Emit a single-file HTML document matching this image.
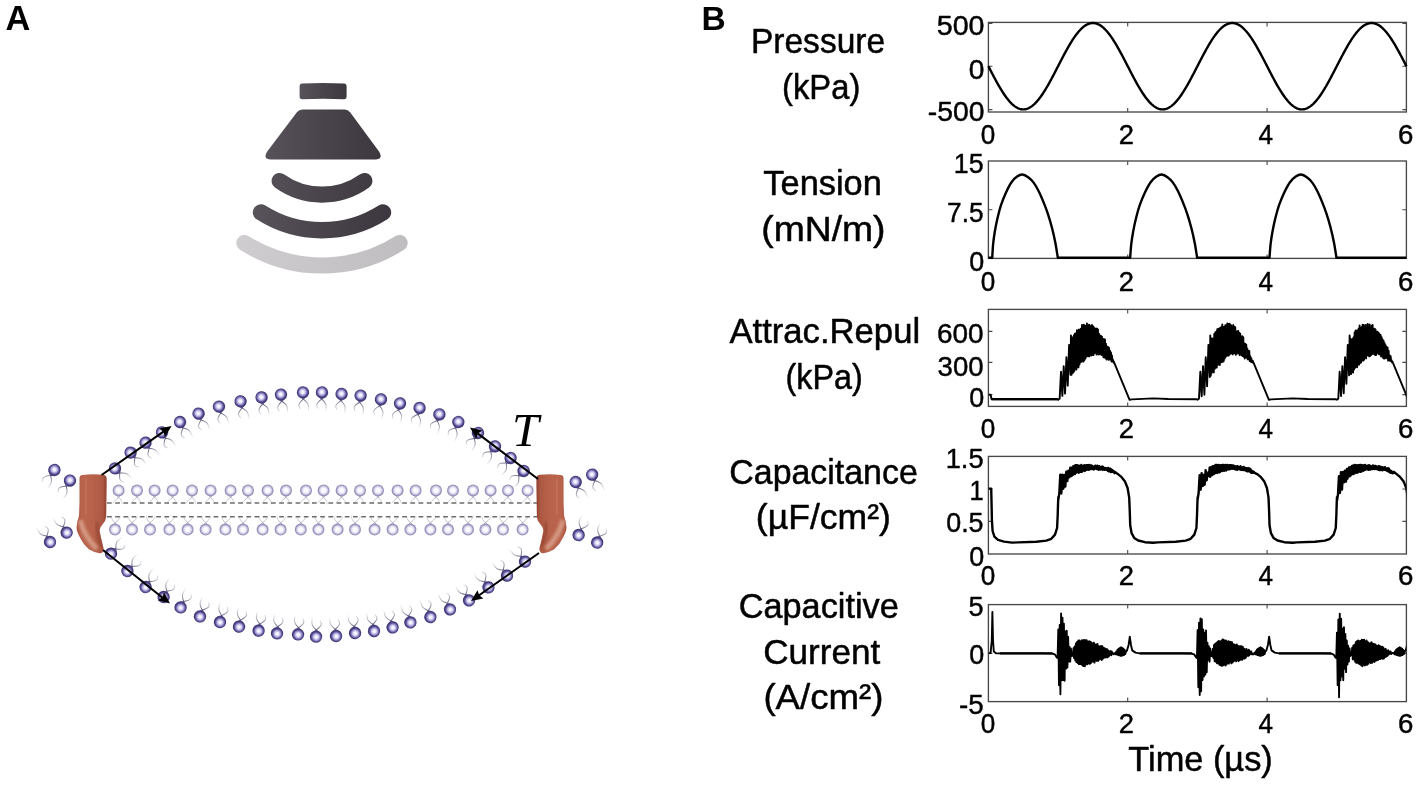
<!DOCTYPE html>
<html lang="en"><head><meta charset="utf-8"><title>Figure</title>
<style>html,body{margin:0;padding:0;background:#fff;}body{width:1425px;height:789px;overflow:hidden;font-family:"Liberation Sans",sans-serif;}svg{display:block;}</style>
</head><body>
<svg width="1425" height="789" viewBox="0 0 1425 789">
<defs><clipPath id="cp0"><rect x="988.4" y="22.4" width="418.0" height="90.8"/></clipPath>
<clipPath id="cp1"><rect x="988.4" y="161.0" width="418.0" height="98.6"/></clipPath>
<clipPath id="cp2"><rect x="988.4" y="309.4" width="418.0" height="98.2"/></clipPath>
<clipPath id="cp3"><rect x="988.4" y="456.4" width="418.0" height="98.8"/></clipPath>
<clipPath id="cp4"><rect x="988.4" y="604.6" width="418.0" height="98.2"/></clipPath>
<linearGradient id="gd" x1="0" x2="1" y1="0" y2="0"><stop offset="0" stop-color="#575159"/><stop offset="0.5" stop-color="#49434b"/><stop offset="1" stop-color="#3d373f"/></linearGradient>
<linearGradient id="gl" x1="0" x2="1" y1="0" y2="0"><stop offset="0" stop-color="#cdcbcd"/><stop offset="1" stop-color="#c0bec1"/></linearGradient>
<linearGradient id="gdu" gradientUnits="userSpaceOnUse" x1="235" x2="409" y1="0" y2="0"><stop offset="0" stop-color="#5c565e"/><stop offset="0.5" stop-color="#49434b"/><stop offset="1" stop-color="#39333b"/></linearGradient>
<linearGradient id="glu" gradientUnits="userSpaceOnUse" x1="235" x2="409" y1="0" y2="0"><stop offset="0" stop-color="#cfcdcf"/><stop offset="1" stop-color="#bfbdc0"/></linearGradient>
<radialGradient id="hd" cx="0.48" cy="0.47" r="0.52"><stop offset="0" stop-color="#ffffff"/><stop offset="0.22" stop-color="#efedfd"/><stop offset="0.46" stop-color="#b9b3e2"/><stop offset="0.68" stop-color="#6a61a6"/><stop offset="0.86" stop-color="#3f3775"/><stop offset="1" stop-color="#4a4282"/></radialGradient>
<radialGradient id="hl" cx="0.5" cy="0.48" r="0.52"><stop offset="0" stop-color="#ffffff"/><stop offset="0.38" stop-color="#f7f6fd"/><stop offset="0.62" stop-color="#d4d1e8"/><stop offset="0.84" stop-color="#9591b9"/><stop offset="1" stop-color="#9a96c0"/></radialGradient>
<linearGradient id="tg" gradientUnits="userSpaceOnUse" x1="0" y1="5" x2="0" y2="20"><stop offset="0" stop-color="#433c6c" stop-opacity="1"/><stop offset="0.25" stop-color="#67627f" stop-opacity="0.8"/><stop offset="0.65" stop-color="#8a8799" stop-opacity="0.4"/><stop offset="1" stop-color="#a09eac" stop-opacity="0"/></linearGradient>
<linearGradient id="tgl" gradientUnits="userSpaceOnUse" x1="0" y1="5" x2="0" y2="15"><stop offset="0" stop-color="#85829c" stop-opacity="0.95"/><stop offset="1" stop-color="#a3a2ad" stop-opacity="0.25"/></linearGradient>
<g id="lip"><path d="M-1.8,5.0 C0.4,7.4 4.2,9.6 4.6,13 C4.8,15 4.6,17 4.6,19.5" fill="none" stroke="url(#tg)" stroke-width="1.0"/><path d="M1.8,5.0 C-0.4,7.4 -4.4,9.6 -4.8,12.4 C-5,14.2 -4,15.2 -3.2,16.4" fill="none" stroke="url(#tg)" stroke-width="1.0"/><circle r="6.2" fill="url(#hd)"/></g>
<g id="lipf"><path d="M-1.2,5.4 C0.4,7.4 2.6,8.8 3.4,11.4 L3.6,14" fill="none" stroke="url(#tgl)" stroke-width="0.8"/><path d="M1.2,5.4 C-0.4,7.4 -3.0,8.8 -4.2,10.6 L-5.6,13" fill="none" stroke="url(#tgl)" stroke-width="0.8"/><circle r="6.0" fill="url(#hl)"/></g>
<filter id="soft" x="-5%" y="-5%" width="110%" height="110%"><feGaussianBlur stdDeviation="0.4"/></filter>
<linearGradient id="pg" x1="0" x2="1" y1="0" y2="0"><stop offset="0" stop-color="#a8553f"/><stop offset="0.18" stop-color="#b9644d"/><stop offset="0.55" stop-color="#b8624b"/><stop offset="0.85" stop-color="#ad5943"/><stop offset="1" stop-color="#9c4d39"/></linearGradient>
<filter id="pb" x="-30%" y="-30%" width="160%" height="160%"><feGaussianBlur stdDeviation="1.6"/></filter>
<path id="prot" d="M82.5,475 Q92,473.8 103.5,474.8 Q106.6,475.2 106.7,478.5 L106.7,485 L106.2,517 Q105.8,521 102.5,524.5 Q99,528 99.8,531.5 Q101,538 102.5,544 Q104,548.5 103.5,550.5 Q102.5,553.5 99.5,553.2 Q94,552.5 88.8,549.3 Q83.5,545 80.5,538.5 Q76.2,531 76.6,527 Q77,521 79,515.8 L79.5,501.8 L79.5,478.5 Q79.4,475.4 82.5,475 Z"/>
<clipPath id="pc"><use href="#prot"/></clipPath>
<g id="protg"><use href="#prot" fill="url(#pg)"/><g clip-path="url(#pc)"><path d="M80,520 Q84,536 97,549" fill="none" stroke="#d9a08a" stroke-width="5" filter="url(#pb)" opacity="0.9"/><path d="M97,522 Q96,532 102,547" fill="none" stroke="#8f4331" stroke-width="3" filter="url(#pb)" opacity="0.8"/><path d="M86,478 L85.5,515" fill="none" stroke="#c9775f" stroke-width="4" filter="url(#pb)" opacity="0.7"/><path d="M105.5,476 L105,518" fill="none" stroke="#8f4331" stroke-width="2.5" filter="url(#pb)" opacity="0.7"/></g></g></defs>
<rect width="100%" height="100%" fill="#fff"/>
<g id="icon"><path d="M302.2,83.6 Q323,82.4 344,83.6 Q346.6,83.8 346.6,86.4 L346.6,96.6 Q346.6,99.2 344,99.3 Q323,98.2 302.2,99.3 Q299.6,99.2 299.6,96.6 L299.6,86.4 Q299.6,83.8 302.2,83.6 Z" fill="url(#gd)"/>
<path d="M302.5,109.4 L344.5,109.4 Q348,109.4 350.3,112.4 L379,151.6 Q383.6,159.4 375.6,159.4 L270.6,159.4 Q262.6,159.4 267.2,151.6 L296.7,112.4 Q299,109.4 302.5,109.4 Z" fill="url(#gd)"/>
<path d="M279.6,181.0 A72.9,72.9 0 0 0 364.4,181.0" fill="none" stroke="url(#gdu)" stroke-width="16.2" stroke-linecap="round"/>
<path d="M261.0,212.4 A113.4,113.4 0 0 0 383.0,212.4" fill="none" stroke="url(#gdu)" stroke-width="16.4" stroke-linecap="round"/>
<path d="M244.4,243.0 A145.1,145.1 0 0 0 399.6,243.0" fill="none" stroke="url(#glu)" stroke-width="16.2" stroke-linecap="round"/></g>
<g id="memflat" filter="url(#soft)"><use href="#lipf" transform="translate(118.6,490.6) rotate(0.0)"/>
<use href="#lipf" transform="translate(137.0,490.6) rotate(0.0)"/>
<use href="#lipf" transform="translate(154.6,490.6) rotate(0.0)"/>
<use href="#lipf" transform="translate(172.6,490.6) rotate(0.0)"/>
<use href="#lipf" transform="translate(192.0,490.6) rotate(0.0)"/>
<use href="#lipf" transform="translate(210.6,490.6) rotate(0.0)"/>
<use href="#lipf" transform="translate(230.6,490.6) rotate(0.0)"/>
<use href="#lipf" transform="translate(248.0,490.6) rotate(0.0)"/>
<use href="#lipf" transform="translate(267.6,490.6) rotate(0.0)"/>
<use href="#lipf" transform="translate(286.0,490.6) rotate(0.0)"/>
<use href="#lipf" transform="translate(306.0,490.6) rotate(0.0)"/>
<use href="#lipf" transform="translate(323.6,490.6) rotate(0.0)"/>
<use href="#lipf" transform="translate(341.6,490.6) rotate(0.0)"/>
<use href="#lipf" transform="translate(360.0,490.6) rotate(0.0)"/>
<use href="#lipf" transform="translate(378.0,490.6) rotate(0.0)"/>
<use href="#lipf" transform="translate(397.6,490.6) rotate(0.0)"/>
<use href="#lipf" transform="translate(415.6,490.6) rotate(0.0)"/>
<use href="#lipf" transform="translate(436.0,490.6) rotate(0.0)"/>
<use href="#lipf" transform="translate(453.0,490.6) rotate(0.0)"/>
<use href="#lipf" transform="translate(473.0,490.6) rotate(0.0)"/>
<use href="#lipf" transform="translate(490.6,490.6) rotate(0.0)"/>
<use href="#lipf" transform="translate(508.0,490.6) rotate(0.0)"/>
<use href="#lipf" transform="translate(527.6,490.6) rotate(0.0)"/>
<use href="#lipf" transform="translate(115.0,529.4) rotate(180.0)"/>
<use href="#lipf" transform="translate(132.0,529.4) rotate(180.0)"/>
<use href="#lipf" transform="translate(150.0,529.4) rotate(180.0)"/>
<use href="#lipf" transform="translate(169.4,529.4) rotate(180.0)"/>
<use href="#lipf" transform="translate(187.6,529.4) rotate(180.0)"/>
<use href="#lipf" transform="translate(205.6,529.4) rotate(180.0)"/>
<use href="#lipf" transform="translate(225.4,529.4) rotate(180.0)"/>
<use href="#lipf" transform="translate(243.0,529.4) rotate(180.0)"/>
<use href="#lipf" transform="translate(262.6,529.4) rotate(180.0)"/>
<use href="#lipf" transform="translate(280.6,529.4) rotate(180.0)"/>
<use href="#lipf" transform="translate(300.8,529.4) rotate(180.0)"/>
<use href="#lipf" transform="translate(318.4,529.4) rotate(180.0)"/>
<use href="#lipf" transform="translate(337.6,529.4) rotate(180.0)"/>
<use href="#lipf" transform="translate(355.0,529.4) rotate(180.0)"/>
<use href="#lipf" transform="translate(374.6,529.4) rotate(180.0)"/>
<use href="#lipf" transform="translate(392.6,529.4) rotate(180.0)"/>
<use href="#lipf" transform="translate(410.4,529.4) rotate(180.0)"/>
<use href="#lipf" transform="translate(430.4,529.4) rotate(180.0)"/>
<use href="#lipf" transform="translate(448.0,529.4) rotate(180.0)"/>
<use href="#lipf" transform="translate(468.0,529.4) rotate(180.0)"/>
<use href="#lipf" transform="translate(485.4,529.4) rotate(180.0)"/>
<use href="#lipf" transform="translate(503.0,529.4) rotate(180.0)"/>
<use href="#lipf" transform="translate(522.6,529.4) rotate(180.0)"/></g>
<path d="M107,503.0 H537 M107,516.75 H537" stroke="#6c6c6c" stroke-width="1.35" stroke-dasharray="4.7 3.5" fill="none"/>
<g id="membrane" filter="url(#soft)"><use href="#lip" transform="translate(115.0,468.4) rotate(-45.4)"/>
<use href="#lip" transform="translate(130.6,452.6) rotate(-40.1)"/>
<use href="#lip" transform="translate(145.6,442.6) rotate(-32.8)"/>
<use href="#lip" transform="translate(162.0,432.4) rotate(-30.9)"/>
<use href="#lip" transform="translate(180.0,422.0) rotate(-27.2)"/>
<use href="#lip" transform="translate(198.6,413.6) rotate(-21.5)"/>
<use href="#lip" transform="translate(219.0,406.6) rotate(-16.2)"/>
<use href="#lip" transform="translate(240.6,401.4) rotate(-12.2)"/>
<use href="#lip" transform="translate(261.6,397.4) rotate(-9.6)"/>
<use href="#lip" transform="translate(281.0,394.6) rotate(-6.9)"/>
<use href="#lip" transform="translate(303.0,392.4) rotate(-3.1)"/>
<use href="#lip" transform="translate(322.0,392.4) rotate(2.4)"/>
<use href="#lip" transform="translate(341.6,394.0) rotate(4.7)"/>
<use href="#lip" transform="translate(360.6,395.6) rotate(7.8)"/>
<use href="#lip" transform="translate(381.0,399.4) rotate(11.2)"/>
<use href="#lip" transform="translate(400.0,403.4) rotate(12.6)"/>
<use href="#lip" transform="translate(419.6,408.0) rotate(15.6)"/>
<use href="#lip" transform="translate(439.4,414.4) rotate(19.8)"/>
<use href="#lip" transform="translate(458.4,422.0) rotate(25.7)"/>
<use href="#lip" transform="translate(478.0,433.0) rotate(33.7)"/>
<use href="#lip" transform="translate(495.0,446.4) rotate(37.5)"/>
<use href="#lip" transform="translate(510.6,458.0) rotate(40.7)"/>
<use href="#lip" transform="translate(523.6,471.0) rotate(45.0)"/>
<use href="#lip" transform="translate(111.0,553.6) rotate(-133.3)"/>
<use href="#lip" transform="translate(127.4,571.0) rotate(-136.0)"/>
<use href="#lip" transform="translate(145.6,587.0) rotate(-144.3)"/>
<use href="#lip" transform="translate(163.6,597.0) rotate(-149.8)"/>
<use href="#lip" transform="translate(180.6,607.4) rotate(-151.9)"/>
<use href="#lip" transform="translate(200.0,616.4) rotate(-159.7)"/>
<use href="#lip" transform="translate(220.0,622.0) rotate(-165.3)"/>
<use href="#lip" transform="translate(239.0,626.6) rotate(-167.4)"/>
<use href="#lip" transform="translate(258.6,630.6) rotate(-169.9)"/>
<use href="#lip" transform="translate(277.0,633.4) rotate(-174.5)"/>
<use href="#lip" transform="translate(298.0,634.4) rotate(-175.3)"/>
<use href="#lip" transform="translate(316.0,636.6) rotate(-177.6)"/>
<use href="#lip" transform="translate(336.0,636.0) rotate(174.7)"/>
<use href="#lip" transform="translate(355.0,633.0) rotate(172.5)"/>
<use href="#lip" transform="translate(374.0,631.0) rotate(171.5)"/>
<use href="#lip" transform="translate(392.6,627.4) rotate(166.7)"/>
<use href="#lip" transform="translate(410.4,622.4) rotate(164.6)"/>
<use href="#lip" transform="translate(430.4,617.0) rotate(161.8)"/>
<use href="#lip" transform="translate(450.0,609.4) rotate(156.7)"/>
<use href="#lip" transform="translate(469.0,600.4) rotate(150.2)"/>
<use href="#lip" transform="translate(488.4,587.4) rotate(146.9)"/>
<use href="#lip" transform="translate(507.0,575.6) rotate(144.8)"/>
<use href="#lip" transform="translate(525.0,561.6) rotate(142.1)"/>
<use href="#lip" transform="translate(54.4,470.0) rotate(34.2)"/>
<use href="#lip" transform="translate(70.0,480.6) rotate(34.2)"/>
<use href="#lip" transform="translate(50.0,542.0) rotate(150.5)"/>
<use href="#lip" transform="translate(66.6,532.6) rotate(150.5)"/>
<use href="#lip" transform="translate(575.7,482.0) rotate(-24.2)"/>
<use href="#lip" transform="translate(592.2,474.6) rotate(-24.2)"/>
<use href="#lip" transform="translate(578.6,535.0) rotate(-158.0)"/>
<use href="#lip" transform="translate(597.2,542.5) rotate(-158.0)"/>
<use href="#protg"/>
<use href="#protg" transform="translate(643.05,0) scale(-1,1)"/></g>
<g id="arrows"><path d="M101.6,475.0 L163.8,431.4" stroke="#000" stroke-width="2.1" fill="none"/><path d="M171.6,426.0 L165.0,436.7 L163.4,431.7 L159.3,428.5 Z" fill="#000"/>
<path d="M103.0,550.0 L162.6,597.7" stroke="#000" stroke-width="2.1" fill="none"/><path d="M170.0,603.6 L157.9,600.3 L162.2,597.4 L164.1,592.5 Z" fill="#000"/>
<path d="M538.0,479.0 L477.6,433.3" stroke="#000" stroke-width="2.1" fill="none"/><path d="M470.0,427.6 L482.2,430.5 L478.0,433.6 L476.2,438.5 Z" fill="#000"/>
<path d="M539.0,553.0 L478.8,595.5" stroke="#000" stroke-width="2.1" fill="none"/><path d="M471.0,601.0 L477.5,590.3 L479.2,595.2 L483.3,598.5 Z" fill="#000"/></g>
<g id="charts" shape-rendering="geometricPrecision"><rect x="988.4" y="22.4" width="418.0" height="89.6" fill="none" stroke="#484848" stroke-width="1.35"/>
<path d="M1127.7,22.4 v4 M1127.7,112.0 v-4" stroke="#484848" stroke-width="1.1"/>
<path d="M1267.1,22.4 v4 M1267.1,112.0 v-4" stroke="#484848" stroke-width="1.1"/>
<rect x="988.4" y="161.0" width="418.0" height="97.4" fill="none" stroke="#484848" stroke-width="1.35"/>
<path d="M1127.7,161.0 v4 M1127.7,258.4 v-4" stroke="#484848" stroke-width="1.1"/>
<path d="M1267.1,161.0 v4 M1267.1,258.4 v-4" stroke="#484848" stroke-width="1.1"/>
<rect x="988.4" y="309.4" width="418.0" height="97.0" fill="none" stroke="#484848" stroke-width="1.35"/>
<path d="M1127.7,309.4 v4 M1127.7,406.4 v-4" stroke="#484848" stroke-width="1.1"/>
<path d="M1267.1,309.4 v4 M1267.1,406.4 v-4" stroke="#484848" stroke-width="1.1"/>
<rect x="988.4" y="456.4" width="418.0" height="97.6" fill="none" stroke="#484848" stroke-width="1.35"/>
<path d="M1127.7,456.4 v4 M1127.7,554.0 v-4" stroke="#484848" stroke-width="1.1"/>
<path d="M1267.1,456.4 v4 M1267.1,554.0 v-4" stroke="#484848" stroke-width="1.1"/>
<rect x="988.4" y="604.6" width="418.0" height="97.0" fill="none" stroke="#484848" stroke-width="1.35"/>
<path d="M1127.7,604.6 v4 M1127.7,701.6 v-4" stroke="#484848" stroke-width="1.1"/>
<path d="M1267.1,604.6 v4 M1267.1,701.6 v-4" stroke="#484848" stroke-width="1.1"/>
<path d="M988.4,23.4 h4 M1406.4,23.4 h-4" stroke="#484848" stroke-width="1.1"/>
<path d="M988.4,66.2 h4 M1406.4,66.2 h-4" stroke="#484848" stroke-width="1.1"/>
<path d="M988.4,109.6 h4 M1406.4,109.6 h-4" stroke="#484848" stroke-width="1.1"/>
<path d="M988.4,209.7 h4 M1406.4,209.7 h-4" stroke="#484848" stroke-width="1.1"/>
<path d="M988.4,331.4 h4 M1406.4,331.4 h-4" stroke="#484848" stroke-width="1.1"/>
<path d="M988.4,362.4 h4 M1406.4,362.4 h-4" stroke="#484848" stroke-width="1.1"/>
<path d="M988.4,394.6 h4 M1406.4,394.6 h-4" stroke="#484848" stroke-width="1.1"/>
<path d="M988.4,489.0 h4 M1406.4,489.0 h-4" stroke="#484848" stroke-width="1.1"/>
<path d="M988.4,521.4 h4 M1406.4,521.4 h-4" stroke="#484848" stroke-width="1.1"/>
<path d="M988.4,653.4 h4 M1406.4,653.4 h-4" stroke="#484848" stroke-width="1.1"/>
<path d="M988.40,66.20 L989.10,67.56 L989.79,68.91 L990.49,70.27 L991.19,71.61 L991.88,72.96 L992.58,74.29 L993.28,75.62 L993.97,76.94 L994.67,78.25 L995.37,79.55 L996.06,80.83 L996.76,82.10 L997.46,83.36 L998.15,84.59 L998.85,85.81 L999.55,87.01 L1000.24,88.19 L1000.94,89.35 L1001.64,90.48 L1002.33,91.59 L1003.03,92.68 L1003.73,93.74 L1004.42,94.77 L1005.12,95.77 L1005.82,96.75 L1006.51,97.69 L1007.21,98.60 L1007.91,99.49 L1008.60,100.33 L1009.30,101.15 L1010.00,101.93 L1010.69,102.67 L1011.39,103.38 L1012.09,104.06 L1012.78,104.69 L1013.48,105.29 L1014.18,105.85 L1014.87,106.37 L1015.57,106.85 L1016.27,107.29 L1016.96,107.68 L1017.66,108.04 L1018.36,108.36 L1019.05,108.63 L1019.75,108.87 L1020.45,109.06 L1021.14,109.21 L1021.84,109.31 L1022.54,109.38 L1023.24,109.40 L1023.93,109.38 L1024.63,109.31 L1025.33,109.21 L1026.02,109.06 L1026.72,108.87 L1027.42,108.63 L1028.11,108.36 L1028.81,108.04 L1029.51,107.68 L1030.20,107.29 L1030.90,106.85 L1031.60,106.37 L1032.29,105.85 L1032.99,105.29 L1033.69,104.69 L1034.38,104.06 L1035.08,103.38 L1035.78,102.67 L1036.47,101.93 L1037.17,101.15 L1037.87,100.33 L1038.56,99.49 L1039.26,98.60 L1039.96,97.69 L1040.65,96.75 L1041.35,95.77 L1042.05,94.77 L1042.74,93.74 L1043.44,92.68 L1044.14,91.59 L1044.83,90.48 L1045.53,89.35 L1046.23,88.19 L1046.92,87.01 L1047.62,85.81 L1048.32,84.59 L1049.01,83.36 L1049.71,82.10 L1050.41,80.83 L1051.10,79.55 L1051.80,78.25 L1052.50,76.94 L1053.19,75.62 L1053.89,74.29 L1054.59,72.96 L1055.28,71.61 L1055.98,70.27 L1056.68,68.91 L1057.37,67.56 L1058.07,66.20 L1058.77,64.84 L1059.46,63.49 L1060.16,62.13 L1060.86,60.79 L1061.55,59.44 L1062.25,58.11 L1062.95,56.78 L1063.64,55.46 L1064.34,54.15 L1065.04,52.85 L1065.73,51.57 L1066.43,50.30 L1067.13,49.04 L1067.82,47.81 L1068.52,46.59 L1069.22,45.39 L1069.91,44.21 L1070.61,43.05 L1071.31,41.92 L1072.00,40.81 L1072.70,39.72 L1073.40,38.66 L1074.09,37.63 L1074.79,36.63 L1075.49,35.65 L1076.18,34.71 L1076.88,33.80 L1077.58,32.91 L1078.27,32.07 L1078.97,31.25 L1079.67,30.47 L1080.36,29.73 L1081.06,29.02 L1081.76,28.34 L1082.45,27.71 L1083.15,27.11 L1083.85,26.55 L1084.54,26.03 L1085.24,25.55 L1085.94,25.11 L1086.63,24.72 L1087.33,24.36 L1088.03,24.04 L1088.72,23.77 L1089.42,23.53 L1090.12,23.34 L1090.81,23.19 L1091.51,23.09 L1092.21,23.02 L1092.90,23.00 L1093.60,23.02 L1094.30,23.09 L1095.00,23.19 L1095.69,23.34 L1096.39,23.53 L1097.09,23.77 L1097.78,24.04 L1098.48,24.36 L1099.18,24.72 L1099.87,25.11 L1100.57,25.55 L1101.27,26.03 L1101.96,26.55 L1102.66,27.11 L1103.36,27.71 L1104.05,28.34 L1104.75,29.02 L1105.45,29.73 L1106.14,30.47 L1106.84,31.25 L1107.54,32.07 L1108.23,32.91 L1108.93,33.80 L1109.63,34.71 L1110.32,35.65 L1111.02,36.63 L1111.72,37.63 L1112.41,38.66 L1113.11,39.72 L1113.81,40.81 L1114.50,41.92 L1115.20,43.05 L1115.90,44.21 L1116.59,45.39 L1117.29,46.59 L1117.99,47.81 L1118.68,49.04 L1119.38,50.30 L1120.08,51.57 L1120.77,52.85 L1121.47,54.15 L1122.17,55.46 L1122.86,56.78 L1123.56,58.11 L1124.26,59.44 L1124.95,60.79 L1125.65,62.13 L1126.35,63.49 L1127.04,64.84 L1127.74,66.20 L1128.44,67.56 L1129.13,68.91 L1129.83,70.27 L1130.53,71.61 L1131.22,72.96 L1131.92,74.29 L1132.62,75.62 L1133.31,76.94 L1134.01,78.25 L1134.71,79.55 L1135.40,80.83 L1136.10,82.10 L1136.80,83.36 L1137.49,84.59 L1138.19,85.81 L1138.89,87.01 L1139.58,88.19 L1140.28,89.35 L1140.98,90.48 L1141.67,91.59 L1142.37,92.68 L1143.07,93.74 L1143.76,94.77 L1144.46,95.77 L1145.16,96.75 L1145.85,97.69 L1146.55,98.60 L1147.25,99.49 L1147.94,100.33 L1148.64,101.15 L1149.34,101.93 L1150.03,102.67 L1150.73,103.38 L1151.43,104.06 L1152.12,104.69 L1152.82,105.29 L1153.52,105.85 L1154.21,106.37 L1154.91,106.85 L1155.61,107.29 L1156.30,107.68 L1157.00,108.04 L1157.70,108.36 L1158.39,108.63 L1159.09,108.87 L1159.79,109.06 L1160.48,109.21 L1161.18,109.31 L1161.88,109.38 L1162.58,109.40 L1163.27,109.38 L1163.97,109.31 L1164.67,109.21 L1165.36,109.06 L1166.06,108.87 L1166.76,108.63 L1167.45,108.36 L1168.15,108.04 L1168.85,107.68 L1169.54,107.29 L1170.24,106.85 L1170.94,106.37 L1171.63,105.85 L1172.33,105.29 L1173.03,104.69 L1173.72,104.06 L1174.42,103.38 L1175.12,102.67 L1175.81,101.93 L1176.51,101.15 L1177.21,100.33 L1177.90,99.49 L1178.60,98.60 L1179.30,97.69 L1179.99,96.75 L1180.69,95.77 L1181.39,94.77 L1182.08,93.74 L1182.78,92.68 L1183.48,91.59 L1184.17,90.48 L1184.87,89.35 L1185.57,88.19 L1186.26,87.01 L1186.96,85.81 L1187.66,84.59 L1188.35,83.36 L1189.05,82.10 L1189.75,80.83 L1190.44,79.55 L1191.14,78.25 L1191.84,76.94 L1192.53,75.62 L1193.23,74.29 L1193.93,72.96 L1194.62,71.61 L1195.32,70.27 L1196.02,68.91 L1196.71,67.56 L1197.41,66.20 L1198.11,64.84 L1198.80,63.49 L1199.50,62.13 L1200.20,60.79 L1200.89,59.44 L1201.59,58.11 L1202.29,56.78 L1202.98,55.46 L1203.68,54.15 L1204.38,52.85 L1205.07,51.57 L1205.77,50.30 L1206.47,49.04 L1207.16,47.81 L1207.86,46.59 L1208.56,45.39 L1209.25,44.21 L1209.95,43.05 L1210.65,41.92 L1211.34,40.81 L1212.04,39.72 L1212.74,38.66 L1213.43,37.63 L1214.13,36.63 L1214.83,35.65 L1215.52,34.71 L1216.22,33.80 L1216.92,32.91 L1217.61,32.07 L1218.31,31.25 L1219.01,30.47 L1219.70,29.73 L1220.40,29.02 L1221.10,28.34 L1221.79,27.71 L1222.49,27.11 L1223.19,26.55 L1223.88,26.03 L1224.58,25.55 L1225.28,25.11 L1225.97,24.72 L1226.67,24.36 L1227.37,24.04 L1228.06,23.77 L1228.76,23.53 L1229.46,23.34 L1230.15,23.19 L1230.85,23.09 L1231.55,23.02 L1232.24,23.00 L1232.94,23.02 L1233.64,23.09 L1234.34,23.19 L1235.03,23.34 L1235.73,23.53 L1236.43,23.77 L1237.12,24.04 L1237.82,24.36 L1238.52,24.72 L1239.21,25.11 L1239.91,25.55 L1240.61,26.03 L1241.30,26.55 L1242.00,27.11 L1242.70,27.71 L1243.39,28.34 L1244.09,29.02 L1244.79,29.73 L1245.48,30.47 L1246.18,31.25 L1246.88,32.07 L1247.57,32.91 L1248.27,33.80 L1248.97,34.71 L1249.66,35.65 L1250.36,36.63 L1251.06,37.63 L1251.75,38.66 L1252.45,39.72 L1253.15,40.81 L1253.84,41.92 L1254.54,43.05 L1255.24,44.21 L1255.93,45.39 L1256.63,46.59 L1257.33,47.81 L1258.02,49.04 L1258.72,50.30 L1259.42,51.57 L1260.11,52.85 L1260.81,54.15 L1261.51,55.46 L1262.20,56.78 L1262.90,58.11 L1263.60,59.44 L1264.29,60.79 L1264.99,62.13 L1265.69,63.49 L1266.38,64.84 L1267.08,66.20 L1267.78,67.56 L1268.47,68.91 L1269.17,70.27 L1269.87,71.61 L1270.56,72.96 L1271.26,74.29 L1271.96,75.62 L1272.65,76.94 L1273.35,78.25 L1274.05,79.55 L1274.74,80.83 L1275.44,82.10 L1276.14,83.36 L1276.83,84.59 L1277.53,85.81 L1278.23,87.01 L1278.92,88.19 L1279.62,89.35 L1280.32,90.48 L1281.01,91.59 L1281.71,92.68 L1282.41,93.74 L1283.10,94.77 L1283.80,95.77 L1284.50,96.75 L1285.19,97.69 L1285.89,98.60 L1286.59,99.49 L1287.28,100.33 L1287.98,101.15 L1288.68,101.93 L1289.37,102.67 L1290.07,103.38 L1290.77,104.06 L1291.46,104.69 L1292.16,105.29 L1292.86,105.85 L1293.55,106.37 L1294.25,106.85 L1294.95,107.29 L1295.64,107.68 L1296.34,108.04 L1297.04,108.36 L1297.73,108.63 L1298.43,108.87 L1299.13,109.06 L1299.82,109.21 L1300.52,109.31 L1301.22,109.38 L1301.91,109.40 L1302.61,109.38 L1303.31,109.31 L1304.01,109.21 L1304.70,109.06 L1305.40,108.87 L1306.10,108.63 L1306.79,108.36 L1307.49,108.04 L1308.19,107.68 L1308.88,107.29 L1309.58,106.85 L1310.28,106.37 L1310.97,105.85 L1311.67,105.29 L1312.37,104.69 L1313.06,104.06 L1313.76,103.38 L1314.46,102.67 L1315.15,101.93 L1315.85,101.15 L1316.55,100.33 L1317.24,99.49 L1317.94,98.60 L1318.64,97.69 L1319.33,96.75 L1320.03,95.77 L1320.73,94.77 L1321.42,93.74 L1322.12,92.68 L1322.82,91.59 L1323.51,90.48 L1324.21,89.35 L1324.91,88.19 L1325.60,87.01 L1326.30,85.81 L1327.00,84.59 L1327.69,83.36 L1328.39,82.10 L1329.09,80.83 L1329.78,79.55 L1330.48,78.25 L1331.18,76.94 L1331.87,75.62 L1332.57,74.29 L1333.27,72.96 L1333.96,71.61 L1334.66,70.27 L1335.36,68.91 L1336.05,67.56 L1336.75,66.20 L1337.45,64.84 L1338.14,63.49 L1338.84,62.13 L1339.54,60.79 L1340.23,59.44 L1340.93,58.11 L1341.63,56.78 L1342.32,55.46 L1343.02,54.15 L1343.72,52.85 L1344.41,51.57 L1345.11,50.30 L1345.81,49.04 L1346.50,47.81 L1347.20,46.59 L1347.90,45.39 L1348.59,44.21 L1349.29,43.05 L1349.99,41.92 L1350.68,40.81 L1351.38,39.72 L1352.08,38.66 L1352.77,37.63 L1353.47,36.63 L1354.17,35.65 L1354.86,34.71 L1355.56,33.80 L1356.26,32.91 L1356.95,32.07 L1357.65,31.25 L1358.35,30.47 L1359.04,29.73 L1359.74,29.02 L1360.44,28.34 L1361.13,27.71 L1361.83,27.11 L1362.53,26.55 L1363.22,26.03 L1363.92,25.55 L1364.62,25.11 L1365.31,24.72 L1366.01,24.36 L1366.71,24.04 L1367.40,23.77 L1368.10,23.53 L1368.80,23.34 L1369.49,23.19 L1370.19,23.09 L1370.89,23.02 L1371.59,23.00 L1372.28,23.02 L1372.98,23.09 L1373.68,23.19 L1374.37,23.34 L1375.07,23.53 L1375.77,23.77 L1376.46,24.04 L1377.16,24.36 L1377.86,24.72 L1378.55,25.11 L1379.25,25.55 L1379.95,26.03 L1380.64,26.55 L1381.34,27.11 L1382.04,27.71 L1382.73,28.34 L1383.43,29.02 L1384.13,29.73 L1384.82,30.47 L1385.52,31.25 L1386.22,32.07 L1386.91,32.91 L1387.61,33.80 L1388.31,34.71 L1389.00,35.65 L1389.70,36.63 L1390.40,37.63 L1391.09,38.66 L1391.79,39.72 L1392.49,40.81 L1393.18,41.92 L1393.88,43.05 L1394.58,44.21 L1395.27,45.39 L1395.97,46.59 L1396.67,47.81 L1397.36,49.04 L1398.06,50.30 L1398.76,51.57 L1399.45,52.85 L1400.15,54.15 L1400.85,55.46 L1401.54,56.78 L1402.24,58.11 L1402.94,59.44 L1403.63,60.79 L1404.33,62.13 L1405.03,63.49 L1405.72,64.84 L1406.42,66.20" fill="none" stroke="#000" stroke-width="2.4" stroke-linejoin="round" stroke-linecap="butt" />
<path d="M988.4,257.7 L992.25,257.7 L992.25,257.70 C992.39,255.47 992.68,248.63 993.10,244.30 C993.52,239.97 994.05,236.12 994.80,231.70 C995.55,227.28 996.57,222.22 997.60,217.80 C998.63,213.38 999.62,209.38 1001.00,205.20 C1002.38,201.02 1004.15,196.53 1005.90,192.70 C1007.65,188.87 1009.63,184.88 1011.50,182.20 C1013.37,179.52 1015.28,177.88 1017.10,176.60 C1018.92,175.32 1020.55,174.38 1022.40,174.50 C1024.25,174.62 1026.30,175.90 1028.20,177.30 C1030.10,178.70 1032.05,180.57 1033.80,182.90 C1035.55,185.23 1037.07,188.05 1038.70,191.30 C1040.33,194.55 1042.08,198.68 1043.60,202.40 C1045.12,206.12 1046.42,209.42 1047.80,213.60 C1049.18,217.78 1050.63,222.62 1051.90,227.50 C1053.17,232.38 1054.42,237.87 1055.40,242.90 C1056.38,247.93 1057.40,255.23 1057.80,257.70 L1130.18,257.7 L1130.18,257.70 C1130.35,255.47 1130.74,248.63 1131.23,244.30 C1131.72,239.97 1132.31,236.12 1133.13,231.70 C1133.95,227.28 1135.03,222.22 1136.13,217.80 C1137.23,213.38 1138.28,209.38 1139.73,205.20 C1141.18,201.02 1143.01,196.53 1144.83,192.70 C1146.65,188.87 1148.70,184.88 1150.63,182.20 C1152.56,179.52 1154.58,177.88 1156.43,176.60 C1158.28,175.32 1159.88,174.38 1161.73,174.50 C1163.58,174.62 1165.63,175.90 1167.53,177.30 C1169.43,178.70 1171.38,180.57 1173.13,182.90 C1174.88,185.23 1176.40,188.05 1178.03,191.30 C1179.66,194.55 1181.41,198.68 1182.93,202.40 C1184.45,206.12 1185.75,209.42 1187.13,213.60 C1188.51,217.78 1189.96,222.62 1191.23,227.50 C1192.50,232.38 1193.75,237.87 1194.73,242.90 C1195.71,247.93 1196.73,255.23 1197.13,257.70 L1269.51,257.7 L1269.51,257.70 C1269.68,255.47 1270.07,248.63 1270.56,244.30 C1271.05,239.97 1271.64,236.12 1272.46,231.70 C1273.28,227.28 1274.36,222.22 1275.46,217.80 C1276.56,213.38 1277.61,209.38 1279.06,205.20 C1280.51,201.02 1282.34,196.53 1284.16,192.70 C1285.98,188.87 1288.03,184.88 1289.96,182.20 C1291.89,179.52 1293.91,177.88 1295.76,176.60 C1297.61,175.32 1299.21,174.38 1301.06,174.50 C1302.91,174.62 1304.96,175.90 1306.86,177.30 C1308.76,178.70 1310.71,180.57 1312.46,182.90 C1314.21,185.23 1315.73,188.05 1317.36,191.30 C1318.99,194.55 1320.74,198.68 1322.26,202.40 C1323.78,206.12 1325.08,209.42 1326.46,213.60 C1327.84,217.78 1329.29,222.62 1330.56,227.50 C1331.83,232.38 1333.08,237.87 1334.06,242.90 C1335.04,247.93 1336.06,255.23 1336.46,257.70 L1406.40,257.7" fill="none" stroke="#000" stroke-width="2.4" stroke-linejoin="round"/>
<path d="M988.40,394.60 L990.60,394.80 L991.60,399.20 L1057.30,399.20 L1058.30,399.80 L1058.30,399.50 L1059.65,398.69 L1061.00,371.69 L1062.35,395.85 L1063.70,366.25 L1065.05,393.58 L1066.40,357.22 L1067.75,385.60 L1069.10,344.86 L1070.45,374.73 L1070.95,335.43 L1071.45,374.88 L1071.95,338.80 L1072.45,373.12 L1072.95,337.08 L1073.45,372.31 L1073.95,335.31 L1074.45,370.84 L1074.95,333.62 L1075.45,368.57 L1075.95,333.21 L1076.45,369.54 L1076.95,330.18 L1077.45,366.48 L1077.95,330.66 L1078.45,367.41 L1078.95,329.46 L1079.45,364.52 L1079.95,330.06 L1080.45,362.22 L1080.95,328.58 L1081.45,361.86 L1081.95,325.00 L1082.45,360.44 L1082.95,325.42 L1083.45,361.62 L1083.95,324.67 L1084.45,360.01 L1084.95,326.27 L1085.45,358.47 L1085.95,325.68 L1086.45,356.63 L1086.95,323.49 L1087.45,356.15 L1087.95,325.89 L1088.45,356.26 L1088.95,324.64 L1089.45,356.25 L1089.95,325.40 L1090.45,354.90 L1090.95,326.98 L1091.45,355.60 L1091.95,324.99 L1092.45,354.73 L1092.95,326.32 L1093.45,355.14 L1093.95,327.34 L1094.45,352.98 L1094.95,329.28 L1095.45,352.56 L1095.95,328.36 L1096.45,354.57 L1096.95,328.62 L1097.45,353.85 L1097.95,329.49 L1098.45,354.48 L1098.95,333.68 L1099.45,354.29 L1099.95,335.39 L1100.45,353.60 L1100.95,335.93 L1101.45,354.87 L1101.95,336.73 L1102.45,355.16 L1102.95,339.04 L1103.45,357.32 L1103.95,339.10 L1104.45,357.18 L1104.95,339.44 L1105.45,358.00 L1105.95,343.79 L1106.45,359.57 L1106.95,346.49 L1107.45,358.15 L1107.95,346.86 L1108.45,359.79 L1108.95,347.73 L1109.45,359.63 L1109.95,350.64 L1110.45,359.05 L1110.95,352.52 L1111.45,361.45 L1111.95,355.43 L1112.45,360.35 L1112.95,359.67 L1113.45,362.67 L1113.95,361.62 L1114.20,362.60 L1129.60,399.80 L1131.80,399.40 L1153.30,398.40 L1168.30,399.00 L1196.63,399.20 L1197.63,399.80 L1197.63,399.50 L1198.98,398.69 L1200.33,371.69 L1201.68,396.23 L1203.03,366.25 L1204.38,394.77 L1205.73,357.22 L1207.08,386.30 L1208.43,344.86 L1209.78,376.97 L1210.28,335.43 L1210.78,375.86 L1211.28,338.80 L1211.78,372.86 L1212.28,338.51 L1212.78,371.86 L1213.28,338.70 L1213.78,372.41 L1214.28,333.94 L1214.78,368.83 L1215.28,332.44 L1215.78,367.76 L1216.28,331.63 L1216.78,367.58 L1217.28,329.20 L1217.78,364.58 L1218.28,328.83 L1218.78,364.43 L1219.28,328.42 L1219.78,364.94 L1220.28,327.91 L1220.78,362.54 L1221.28,326.89 L1221.78,362.11 L1222.28,324.40 L1222.78,361.87 L1223.28,327.07 L1223.78,360.89 L1224.28,326.91 L1224.78,358.53 L1225.28,325.08 L1225.78,356.76 L1226.28,325.79 L1226.78,355.72 L1227.28,323.44 L1227.78,355.61 L1228.28,324.03 L1228.78,355.51 L1229.28,323.80 L1229.78,354.00 L1230.28,324.41 L1230.78,353.81 L1231.28,325.46 L1231.78,353.09 L1232.28,327.72 L1232.78,354.36 L1233.28,325.02 L1233.78,352.87 L1234.28,326.75 L1234.78,353.30 L1235.28,327.18 L1235.78,354.84 L1236.28,331.98 L1236.78,353.78 L1237.28,331.27 L1237.78,352.73 L1238.28,331.03 L1238.78,353.60 L1239.28,332.94 L1239.78,355.15 L1240.28,333.80 L1240.78,353.16 L1241.28,338.22 L1241.78,355.37 L1242.28,336.26 L1242.78,356.12 L1243.28,337.31 L1243.78,356.77 L1244.28,343.11 L1244.78,358.48 L1245.28,343.98 L1245.78,357.38 L1246.28,344.67 L1246.78,357.80 L1247.28,348.40 L1247.78,359.38 L1248.28,350.75 L1248.78,359.23 L1249.28,350.86 L1249.78,361.13 L1250.28,356.23 L1250.78,361.71 L1251.28,358.14 L1251.78,362.06 L1252.28,361.07 L1252.78,360.74 L1253.28,363.37 L1253.53,362.60 L1268.93,399.80 L1271.13,399.40 L1292.63,398.40 L1307.63,399.00 L1335.96,399.20 L1336.96,399.80 L1336.96,399.50 L1338.31,398.69 L1339.66,371.69 L1341.01,395.95 L1342.36,366.25 L1343.71,393.21 L1345.06,357.22 L1346.41,383.73 L1347.76,344.86 L1349.11,375.35 L1349.61,335.43 L1350.11,374.05 L1350.61,338.80 L1351.11,374.11 L1351.61,340.67 L1352.11,372.13 L1352.61,338.91 L1353.11,372.51 L1353.61,337.16 L1354.11,369.39 L1354.61,332.39 L1355.11,367.74 L1355.61,330.47 L1356.11,366.43 L1356.61,330.65 L1357.11,367.27 L1357.61,330.51 L1358.11,364.77 L1358.61,328.76 L1359.11,364.48 L1359.61,325.49 L1360.11,362.97 L1360.61,328.06 L1361.11,362.43 L1361.61,327.19 L1362.11,360.61 L1362.61,324.67 L1363.11,360.63 L1363.61,325.05 L1364.11,359.76 L1364.61,327.37 L1365.11,357.63 L1365.61,324.86 L1366.11,358.38 L1366.61,326.07 L1367.11,355.49 L1367.61,323.89 L1368.11,354.94 L1368.61,327.21 L1369.11,356.42 L1369.61,324.38 L1370.11,355.98 L1370.61,327.93 L1371.11,354.98 L1371.61,325.62 L1372.11,354.16 L1372.61,324.95 L1373.11,352.16 L1373.61,329.24 L1374.11,354.15 L1374.61,328.79 L1375.11,355.10 L1375.61,329.75 L1376.11,355.00 L1376.61,332.64 L1377.11,353.11 L1377.61,331.63 L1378.11,353.45 L1378.61,332.85 L1379.11,354.42 L1379.61,334.19 L1380.11,354.34 L1380.61,334.94 L1381.11,356.52 L1381.61,337.09 L1382.11,355.86 L1382.61,339.53 L1383.11,357.90 L1383.61,340.88 L1384.11,358.64 L1384.61,343.21 L1385.11,358.19 L1385.61,345.29 L1386.11,357.35 L1386.61,347.07 L1387.11,358.34 L1387.61,347.65 L1388.11,360.64 L1388.61,350.65 L1389.11,360.12 L1389.61,355.19 L1390.11,360.82 L1390.61,356.22 L1391.11,361.16 L1391.61,360.33 L1392.11,362.41 L1392.61,361.73 L1392.86,362.60 L1408.26,399.80 L1410.46,399.40 L1431.96,398.40 L1446.96,399.00" fill="none" stroke="#000" stroke-width="1.9" stroke-linejoin="round" stroke-linecap="butt" clip-path="url(#cp2)"/>
<path d="M991.6,399.1 H1058" stroke="#000" stroke-width="2.4"/>
<path d="M988.40,488.60 L991.20,488.60 L991.60,505.00 L991.90,520.00 L992.60,531.00 L994.40,536.60 L998.00,539.80 L1004.00,541.60 L1012.00,542.60 L1018.30,542.40 L1036.30,541.80 L1046.30,540.60 L1051.30,538.80 L1055.00,534.60 L1057.10,528.00 L1057.70,515.00 L1058.00,505.00 L1058.30,497.30 L1058.30,499.66 L1059.30,493.33 L1060.30,474.66 L1061.30,493.52 L1062.30,474.77 L1063.30,488.76 L1064.30,475.01 L1065.30,486.56 L1066.30,471.75 L1067.30,481.06 L1068.30,470.73 L1068.80,477.56 L1069.30,471.15 L1069.80,476.06 L1070.30,467.69 L1070.80,476.42 L1071.30,467.85 L1071.80,475.71 L1072.30,467.38 L1072.80,475.02 L1073.30,466.21 L1073.80,474.07 L1074.30,466.72 L1074.80,474.11 L1075.30,465.29 L1075.80,472.85 L1076.30,465.54 L1076.80,472.46 L1077.30,465.24 L1077.80,472.13 L1078.30,465.76 L1078.80,472.71 L1079.30,466.01 L1079.80,471.56 L1080.30,465.73 L1080.80,471.88 L1081.30,464.94 L1081.80,471.83 L1082.30,465.97 L1082.80,470.63 L1083.30,465.91 L1083.80,470.52 L1084.30,465.26 L1084.80,470.95 L1085.30,465.71 L1085.80,469.65 L1086.30,465.27 L1086.80,469.92 L1087.30,465.23 L1087.80,469.30 L1088.30,465.29 L1088.80,469.79 L1089.30,464.98 L1089.80,469.37 L1090.30,465.61 L1090.80,468.48 L1091.30,465.55 L1091.80,469.12 L1092.30,465.87 L1092.80,468.45 L1093.30,466.57 L1093.80,469.44 L1094.30,466.63 L1094.80,468.60 L1095.30,465.80 L1095.80,468.57 L1096.30,466.55 L1096.80,468.92 L1097.30,465.79 L1097.80,469.17 L1098.30,466.88 L1098.80,469.74 L1099.30,466.22 L1099.80,468.92 L1100.30,467.27 L1100.80,469.52 L1101.30,467.17 L1101.80,468.95 L1102.30,466.52 L1102.80,469.78 L1103.30,467.19 L1103.80,469.03 L1104.30,468.04 L1104.80,469.81 L1105.30,468.05 L1105.80,469.42 L1106.30,468.31 L1106.80,469.80 L1107.30,468.50 L1107.80,470.69 L1108.30,468.01 L1108.80,471.22 L1109.30,469.10 L1109.80,471.24 L1110.30,468.71 L1110.80,471.97 L1111.30,469.51 L1111.80,471.78 L1112.30,470.06 L1112.80,471.88 L1113.30,470.76 L1113.80,472.39 L1114.30,471.55 L1114.80,473.15 L1115.30,472.18 L1118.30,474.40 L1121.00,476.60 L1125.00,481.60 L1127.60,488.00 L1129.20,497.60 L1129.80,512.00 L1130.20,525.20 L1131.60,533.20 L1134.20,537.90 L1138.20,540.50 L1144.90,542.20 L1153.30,542.70 L1157.63,542.40 L1175.63,541.80 L1185.63,540.60 L1190.63,538.80 L1194.33,534.60 L1196.43,528.00 L1197.03,515.00 L1197.33,505.00 L1197.63,497.30 L1197.63,499.30 L1198.63,492.98 L1199.63,475.08 L1200.63,489.75 L1201.63,473.23 L1202.63,486.03 L1203.63,474.85 L1204.63,484.76 L1205.63,470.23 L1206.63,480.37 L1207.63,473.30 L1208.13,475.53 L1208.63,471.91 L1209.13,475.96 L1209.63,467.64 L1210.13,476.88 L1210.63,467.13 L1211.13,475.46 L1211.63,467.14 L1212.13,475.08 L1212.63,466.31 L1213.13,474.42 L1213.63,466.41 L1214.13,473.84 L1214.63,465.64 L1215.13,473.14 L1215.63,465.04 L1216.13,472.53 L1216.63,465.02 L1217.13,472.99 L1217.63,465.22 L1218.13,471.90 L1218.63,464.95 L1219.13,472.45 L1219.63,465.93 L1220.13,471.89 L1220.63,465.12 L1221.13,470.99 L1221.63,465.10 L1222.13,470.94 L1222.63,464.88 L1223.13,470.58 L1223.63,464.97 L1224.13,470.92 L1224.63,465.89 L1225.13,470.15 L1225.63,465.03 L1226.13,470.50 L1226.63,465.19 L1227.13,469.51 L1227.63,464.87 L1228.13,469.35 L1228.63,465.57 L1229.13,469.31 L1229.63,465.30 L1230.13,469.11 L1230.63,465.13 L1231.13,468.65 L1231.63,465.32 L1232.13,468.88 L1232.63,465.34 L1233.13,468.44 L1233.63,465.76 L1234.13,468.77 L1234.63,466.21 L1235.13,469.21 L1235.63,466.51 L1236.13,469.43 L1236.63,466.55 L1237.13,469.77 L1237.63,466.21 L1238.13,469.10 L1238.63,467.17 L1239.13,468.92 L1239.63,467.02 L1240.13,469.62 L1240.63,466.32 L1241.13,469.92 L1241.63,467.61 L1242.13,469.70 L1242.63,467.59 L1243.13,469.99 L1243.63,467.00 L1244.13,469.67 L1244.63,467.66 L1245.13,470.40 L1245.63,468.24 L1246.13,470.78 L1246.63,468.14 L1247.13,471.26 L1247.63,468.46 L1248.13,471.40 L1248.63,468.19 L1249.13,470.93 L1249.63,468.72 L1250.13,471.75 L1250.63,469.33 L1251.13,472.72 L1251.63,470.58 L1252.13,472.63 L1252.63,471.32 L1253.13,472.87 L1253.63,471.79 L1254.13,472.16 L1254.63,472.84 L1257.63,474.40 L1260.33,476.60 L1264.33,481.60 L1266.93,488.00 L1268.53,497.60 L1269.13,512.00 L1269.53,525.20 L1270.93,533.20 L1273.53,537.90 L1277.53,540.50 L1284.23,542.20 L1292.63,542.70 L1296.96,542.40 L1314.96,541.80 L1324.96,540.60 L1329.96,538.80 L1333.66,534.60 L1335.76,528.00 L1336.36,515.00 L1336.66,505.00 L1336.96,497.30 L1336.96,500.79 L1337.96,494.60 L1338.96,476.21 L1339.96,492.96 L1340.96,472.12 L1341.96,489.63 L1342.96,471.96 L1343.96,482.37 L1344.96,470.69 L1345.96,481.65 L1346.96,468.93 L1347.46,478.70 L1347.96,472.85 L1348.46,476.27 L1348.96,467.50 L1349.46,476.42 L1349.96,467.51 L1350.46,475.80 L1350.96,467.05 L1351.46,474.64 L1351.96,465.97 L1352.46,473.53 L1352.96,465.82 L1353.46,473.98 L1353.96,465.51 L1354.46,473.43 L1354.96,464.99 L1355.46,472.44 L1355.96,465.28 L1356.46,472.90 L1356.96,465.78 L1357.46,472.57 L1357.96,465.22 L1358.46,472.03 L1358.96,465.40 L1359.46,471.62 L1359.96,464.91 L1360.46,471.84 L1360.96,464.97 L1361.46,471.61 L1361.96,465.89 L1362.46,470.03 L1362.96,465.23 L1363.46,470.73 L1363.96,465.88 L1364.46,470.03 L1364.96,465.06 L1365.46,469.52 L1365.96,466.02 L1366.46,469.32 L1366.96,465.63 L1367.46,469.04 L1367.96,465.64 L1368.46,469.89 L1368.96,465.21 L1369.46,469.52 L1369.96,465.78 L1370.46,469.46 L1370.96,466.12 L1371.46,468.66 L1371.96,466.45 L1372.46,469.05 L1372.96,465.40 L1373.46,468.47 L1373.96,466.09 L1374.46,469.11 L1374.96,465.93 L1375.46,468.75 L1375.96,466.06 L1376.46,469.03 L1376.96,466.79 L1377.46,468.68 L1377.96,466.86 L1378.46,469.82 L1378.96,466.23 L1379.46,469.98 L1379.96,467.19 L1380.46,470.00 L1380.96,466.82 L1381.46,469.37 L1381.96,467.15 L1382.46,470.24 L1382.96,467.59 L1383.46,469.46 L1383.96,467.56 L1384.46,469.67 L1384.96,467.26 L1385.46,469.84 L1385.96,468.47 L1386.46,470.47 L1386.96,468.79 L1387.46,470.82 L1387.96,468.24 L1388.46,471.56 L1388.96,468.79 L1389.46,471.77 L1389.96,470.44 L1390.46,472.78 L1390.96,470.91 L1391.46,472.63 L1391.96,471.69 L1392.46,473.21 L1392.96,471.87 L1393.46,473.10 L1393.96,471.87 L1396.96,474.40 L1399.66,476.60 L1403.66,481.60 L1406.26,488.00 L1407.86,497.60 L1408.46,512.00 L1408.86,525.20 L1410.26,533.20 L1412.86,537.90 L1416.86,540.50 L1423.56,542.20 L1431.96,542.70" fill="none" stroke="#000" stroke-width="2.4" stroke-linejoin="round" stroke-linecap="butt" clip-path="url(#cp3)"/>
<path d="M988.40,653.40 L990.60,652.80 L991.80,640.00 L992.40,612.00 L993.00,640.00 L993.80,651.50 L996.00,653.20 L1000.00,653.40 L1043.60,653.40 L1052.60,653.60 L1055.10,654.70 L1056.80,657.40 L1057.60,658.00 L1058.30,629.36 L1059.00,685.30 L1059.70,624.97 L1060.40,694.31 L1061.10,613.48 L1061.80,680.26 L1062.50,617.65 L1063.20,679.97 L1063.90,623.79 L1064.60,680.71 L1065.30,631.41 L1066.00,668.61 L1066.70,630.66 L1067.40,667.44 L1068.10,636.66 L1068.80,661.55 L1069.50,646.88 L1070.20,661.60 L1070.90,648.55 L1071.60,656.00 L1072.30,653.42 L1072.90,655.86 L1073.50,648.10 L1074.10,658.08 L1074.70,646.42 L1075.30,660.45 L1075.90,643.39 L1076.50,662.13 L1077.10,641.88 L1077.70,663.05 L1078.30,640.47 L1078.90,664.14 L1079.50,640.50 L1080.10,664.10 L1080.70,641.40 L1081.30,664.35 L1081.90,640.20 L1082.50,665.57 L1083.10,640.12 L1083.70,666.14 L1084.30,639.88 L1084.90,666.25 L1085.50,640.17 L1086.10,664.03 L1086.70,640.29 L1087.30,664.42 L1087.90,641.65 L1088.50,663.24 L1089.10,641.27 L1089.70,663.87 L1090.30,641.73 L1090.90,663.13 L1091.50,642.51 L1092.10,661.64 L1092.70,643.74 L1093.30,661.43 L1093.90,642.63 L1094.50,662.67 L1095.10,644.41 L1095.70,660.67 L1096.30,644.42 L1096.90,660.90 L1097.50,643.99 L1098.10,660.92 L1098.70,646.22 L1099.30,659.63 L1099.90,646.57 L1100.50,658.87 L1101.10,645.90 L1101.70,660.02 L1102.30,646.21 L1102.90,658.75 L1103.50,647.69 L1104.10,657.47 L1104.70,648.25 L1105.30,657.51 L1105.90,649.00 L1106.50,657.21 L1107.10,649.32 L1107.70,657.35 L1108.30,650.49 L1108.90,656.33 L1109.50,651.48 L1110.10,654.89 L1110.70,651.03 L1111.30,655.22 L1111.90,651.65 L1112.50,653.76 L1113.10,653.16 L1113.70,654.31 L1115.10,653.00 L1115.70,654.20 L1116.30,651.40 L1116.90,654.60 L1117.50,649.80 L1118.10,655.00 L1118.70,648.66 L1119.30,655.40 L1119.90,647.98 L1120.50,655.80 L1121.10,647.30 L1121.70,655.80 L1122.30,647.98 L1122.90,655.40 L1123.50,648.66 L1124.10,655.00 L1124.70,649.90 L1125.30,654.10 L1125.90,651.70 L1127.00,650.50 L1128.60,645.00 L1129.80,636.60 L1131.00,645.00 L1132.20,650.40 L1135.50,652.60 L1139.60,653.40 L1182.93,653.40 L1191.93,653.60 L1194.43,654.70 L1196.13,657.40 L1196.93,658.00 L1197.63,630.02 L1198.33,687.34 L1199.03,622.66 L1199.73,695.06 L1200.43,618.45 L1201.13,691.26 L1201.83,619.21 L1202.53,680.11 L1203.23,629.33 L1203.93,676.55 L1204.63,632.72 L1205.33,674.62 L1206.03,630.43 L1206.73,672.35 L1207.43,642.60 L1208.13,659.78 L1208.83,646.10 L1209.53,661.60 L1210.23,648.55 L1210.93,656.00 L1211.63,652.50 L1212.23,656.31 L1212.83,648.95 L1213.43,658.04 L1214.03,644.96 L1214.63,661.24 L1215.23,643.76 L1215.83,661.70 L1216.43,643.01 L1217.03,663.32 L1217.63,641.81 L1218.23,663.19 L1218.83,640.96 L1219.43,664.79 L1220.03,641.55 L1220.63,665.18 L1221.23,640.97 L1221.83,665.92 L1222.43,639.54 L1223.03,665.41 L1223.63,639.80 L1224.23,664.56 L1224.83,640.58 L1225.43,665.51 L1226.03,640.47 L1226.63,664.58 L1227.23,641.72 L1227.83,663.08 L1228.43,641.13 L1229.03,663.64 L1229.63,641.67 L1230.23,662.04 L1230.83,641.94 L1231.43,663.35 L1232.03,642.24 L1232.63,662.35 L1233.23,644.30 L1233.83,661.06 L1234.43,644.45 L1235.03,660.48 L1235.63,645.29 L1236.23,661.39 L1236.83,644.34 L1237.43,659.88 L1238.03,645.88 L1238.63,661.14 L1239.23,646.21 L1239.83,659.99 L1240.43,646.14 L1241.03,659.60 L1241.63,646.23 L1242.23,659.74 L1242.83,646.93 L1243.43,658.59 L1244.03,648.69 L1244.63,658.50 L1245.23,649.38 L1245.83,657.69 L1246.43,648.95 L1247.03,655.87 L1247.63,650.56 L1248.23,655.95 L1248.83,649.82 L1249.43,655.22 L1250.03,651.16 L1250.63,653.72 L1251.23,651.53 L1251.83,654.27 L1252.43,653.54 L1253.03,654.46 L1254.43,653.00 L1255.03,654.20 L1255.63,651.40 L1256.23,654.60 L1256.83,649.80 L1257.43,655.00 L1258.03,648.66 L1258.63,655.40 L1259.23,647.98 L1259.83,655.80 L1260.43,647.30 L1261.03,655.80 L1261.63,647.98 L1262.23,655.40 L1262.83,648.66 L1263.43,655.00 L1264.03,649.90 L1264.63,654.10 L1265.23,651.70 L1266.33,650.50 L1267.93,645.00 L1269.13,636.60 L1270.33,645.00 L1271.53,650.40 L1274.83,652.60 L1278.93,653.40 L1322.26,653.40 L1331.26,653.60 L1333.76,654.70 L1335.46,657.40 L1336.26,658.00 L1336.96,632.61 L1337.66,685.13 L1338.36,619.53 L1339.06,697.32 L1339.76,613.60 L1340.46,680.34 L1341.16,618.81 L1341.86,676.67 L1342.56,628.79 L1343.26,680.22 L1343.96,627.21 L1344.66,668.83 L1345.36,633.87 L1346.06,672.17 L1346.76,640.40 L1347.46,664.44 L1348.16,645.81 L1348.86,661.60 L1349.56,648.55 L1350.26,656.00 L1350.96,652.90 L1351.56,655.01 L1352.16,647.73 L1352.76,659.36 L1353.36,645.43 L1353.96,659.48 L1354.56,644.93 L1355.16,661.77 L1355.76,642.19 L1356.36,662.88 L1356.96,641.24 L1357.56,662.83 L1358.16,640.35 L1358.76,663.66 L1359.36,641.11 L1359.96,664.21 L1360.56,640.89 L1361.16,665.21 L1361.76,639.75 L1362.36,666.25 L1362.96,639.92 L1363.56,664.88 L1364.16,639.79 L1364.76,665.49 L1365.36,641.48 L1365.96,664.90 L1366.56,640.57 L1367.16,664.81 L1367.76,641.91 L1368.36,663.76 L1368.96,643.12 L1369.56,662.21 L1370.16,643.54 L1370.76,662.95 L1371.36,642.29 L1371.96,662.91 L1372.56,643.54 L1373.16,661.39 L1373.76,643.91 L1374.36,661.93 L1374.96,644.32 L1375.56,660.84 L1376.16,645.27 L1376.76,660.24 L1377.36,646.07 L1377.96,659.93 L1378.56,645.17 L1379.16,659.12 L1379.76,645.99 L1380.36,659.15 L1380.96,646.62 L1381.56,658.34 L1382.16,646.77 L1382.76,658.79 L1383.36,647.35 L1383.96,658.45 L1384.56,649.23 L1385.16,656.98 L1385.76,648.89 L1386.36,656.67 L1386.96,650.89 L1387.56,655.81 L1388.16,650.17 L1388.76,654.58 L1389.36,651.70 L1389.96,653.58 L1390.56,651.36 L1391.16,654.06 L1391.76,653.39 L1392.36,652.93 L1393.76,653.00 L1394.36,654.20 L1394.96,651.40 L1395.56,654.60 L1396.16,649.80 L1396.76,655.00 L1397.36,648.66 L1397.96,655.40 L1398.56,647.98 L1399.16,655.80 L1399.76,647.30 L1400.36,655.80 L1400.96,647.98 L1401.56,655.40 L1402.16,648.66 L1402.76,655.00 L1403.36,649.90 L1403.96,654.10 L1404.56,651.70 L1405.66,650.50 L1407.26,645.00 L1408.46,636.60 L1409.66,645.00 L1410.86,650.40 L1414.16,652.60 L1418.26,653.40 L1406.40,653.40" fill="none" stroke="#000" stroke-width="1.9" stroke-linejoin="round" stroke-linecap="butt" clip-path="url(#cp4)"/>
<path d="M1000.0,653.4 H1052.6" stroke="#000" stroke-width="2.4"/>
<path d="M1139.6,653.4 H1191.9" stroke="#000" stroke-width="2.4"/>
<path d="M1278.9,653.4 H1331.3" stroke="#000" stroke-width="2.4"/></g>
<g id="labels" opacity="0.999"><text transform="translate(5.51,29.90) scale(1.0062,1)" font-family="'Liberation Sans'" font-size="34.2" font-weight="bold" font-style="normal" fill="#000" stroke="#000" stroke-width="0" stroke-linejoin="round">A</text>
<text transform="translate(701.59,30.00) scale(0.9985,1)" font-family="'Liberation Sans'" font-size="33.6" font-weight="bold" font-style="normal" fill="#000" stroke="#000" stroke-width="0" stroke-linejoin="round">B</text>
<text transform="translate(750.92,52.90) scale(0.9589,1)" font-family="'Liberation Sans'" font-size="35.0" font-weight="normal" font-style="normal" fill="#000" stroke="#000" stroke-width="0.5" stroke-linejoin="round">Pressure</text>
<text transform="translate(782.03,98.90) scale(0.9364,1)" font-family="'Liberation Sans'" font-size="35.0" font-weight="normal" font-style="normal" fill="#000" stroke="#000" stroke-width="0.5" stroke-linejoin="round">(kPa)</text>
<text transform="translate(763.31,194.90) scale(0.9833,1)" font-family="'Liberation Sans'" font-size="35.0" font-weight="normal" font-style="normal" fill="#000" stroke="#000" stroke-width="0.5" stroke-linejoin="round">Tension</text>
<text transform="translate(761.36,240.50) scale(1.0651,1)" font-family="'Liberation Sans'" font-size="35.0" font-weight="normal" font-style="normal" fill="#000" stroke="#000" stroke-width="0.5" stroke-linejoin="round">(mN/m)</text>
<text transform="translate(729.40,342.90) scale(0.9905,1)" font-family="'Liberation Sans'" font-size="35.0" font-weight="normal" font-style="normal" fill="#000" stroke="#000" stroke-width="0.5" stroke-linejoin="round">Attrac.Repul</text>
<text transform="translate(785.46,388.90) scale(0.9239,1)" font-family="'Liberation Sans'" font-size="35.0" font-weight="normal" font-style="normal" fill="#000" stroke="#000" stroke-width="0.5" stroke-linejoin="round">(kPa)</text>
<text transform="translate(729.30,483.90) scale(0.9689,1)" font-family="'Liberation Sans'" font-size="35.0" font-weight="normal" font-style="normal" fill="#000" stroke="#000" stroke-width="0.5" stroke-linejoin="round">Capacitance</text>
<text transform="translate(755.87,529.10) scale(1.0160,1)" font-family="'Liberation Sans'" font-size="35.0" font-weight="normal" font-style="normal" fill="#000" stroke="#000" stroke-width="0.5" stroke-linejoin="round">(µF/cm²)</text>
<text transform="translate(738.68,617.50) scale(0.9801,1)" font-family="'Liberation Sans'" font-size="35.0" font-weight="normal" font-style="normal" fill="#000" stroke="#000" stroke-width="0.5" stroke-linejoin="round">Capacitive</text>
<text transform="translate(763.24,663.50) scale(1.0032,1)" font-family="'Liberation Sans'" font-size="35.0" font-weight="normal" font-style="normal" fill="#000" stroke="#000" stroke-width="0.5" stroke-linejoin="round">Current</text>
<text transform="translate(763.40,708.50) scale(1.0475,1)" font-family="'Liberation Sans'" font-size="35.0" font-weight="normal" font-style="normal" fill="#000" stroke="#000" stroke-width="0.5" stroke-linejoin="round">(A/cm²)</text>
<text transform="translate(1128.31,770.50) scale(0.9819,1)" font-family="'Liberation Sans'" font-size="35.0" font-weight="normal" font-style="normal" fill="#000" stroke="#000" stroke-width="0.5" stroke-linejoin="round">Time (µs)</text>
<text transform="translate(512.11,446.00) scale(1.0258,1)" font-family="'Liberation Serif'" font-size="47" font-weight="normal" font-style="italic" fill="#000" stroke="#000" stroke-width="0" stroke-linejoin="round">T</text>
<text transform="translate(936.75,35.30) scale(1.0452,1)" font-family="'Liberation Sans'" font-size="27.4" font-weight="normal" font-style="normal" fill="#000" stroke="#000" stroke-width="0.45" stroke-linejoin="round">500</text>
<text transform="translate(968.86,78.50) scale(1.0279,1)" font-family="'Liberation Sans'" font-size="27.4" font-weight="normal" font-style="normal" fill="#000" stroke="#000" stroke-width="0.45" stroke-linejoin="round">0</text>
<text transform="translate(927.87,120.90) scale(1.0331,1)" font-family="'Liberation Sans'" font-size="27.4" font-weight="normal" font-style="normal" fill="#000" stroke="#000" stroke-width="0.45" stroke-linejoin="round">-500</text>
<text transform="translate(953.72,172.90) scale(0.9794,1)" font-family="'Liberation Sans'" font-size="27.4" font-weight="normal" font-style="normal" fill="#000" stroke="#000" stroke-width="0.45" stroke-linejoin="round">15</text>
<text transform="translate(947.09,222.40) scale(0.9572,1)" font-family="'Liberation Sans'" font-size="27.4" font-weight="normal" font-style="normal" fill="#000" stroke="#000" stroke-width="0.45" stroke-linejoin="round">7.5</text>
<text transform="translate(969.19,271.10) scale(0.9832,1)" font-family="'Liberation Sans'" font-size="27.4" font-weight="normal" font-style="normal" fill="#000" stroke="#000" stroke-width="0.45" stroke-linejoin="round">0</text>
<text transform="translate(937.00,343.30) scale(1.0195,1)" font-family="'Liberation Sans'" font-size="27.4" font-weight="normal" font-style="normal" fill="#000" stroke="#000" stroke-width="0.45" stroke-linejoin="round">600</text>
<text transform="translate(937.57,375.90) scale(1.0068,1)" font-family="'Liberation Sans'" font-size="27.4" font-weight="normal" font-style="normal" fill="#000" stroke="#000" stroke-width="0.45" stroke-linejoin="round">300</text>
<text transform="translate(969.19,406.90) scale(0.9832,1)" font-family="'Liberation Sans'" font-size="27.4" font-weight="normal" font-style="normal" fill="#000" stroke="#000" stroke-width="0.45" stroke-linejoin="round">0</text>
<text transform="translate(945.69,467.90) scale(0.9949,1)" font-family="'Liberation Sans'" font-size="27.4" font-weight="normal" font-style="normal" fill="#000" stroke="#000" stroke-width="0.45" stroke-linejoin="round">1.5</text>
<text transform="translate(969.62,499.50) scale(0.9290,1)" font-family="'Liberation Sans'" font-size="27.4" font-weight="normal" font-style="normal" fill="#000" stroke="#000" stroke-width="0.45" stroke-linejoin="round">1</text>
<text transform="translate(946.19,531.90) scale(0.9813,1)" font-family="'Liberation Sans'" font-size="27.4" font-weight="normal" font-style="normal" fill="#000" stroke="#000" stroke-width="0.45" stroke-linejoin="round">0.5</text>
<text transform="translate(969.19,565.90) scale(0.9832,1)" font-family="'Liberation Sans'" font-size="27.4" font-weight="normal" font-style="normal" fill="#000" stroke="#000" stroke-width="0.45" stroke-linejoin="round">0</text>
<text transform="translate(968.52,615.90) scale(0.9884,1)" font-family="'Liberation Sans'" font-size="27.4" font-weight="normal" font-style="normal" fill="#000" stroke="#000" stroke-width="0.45" stroke-linejoin="round">5</text>
<text transform="translate(969.19,664.30) scale(0.9832,1)" font-family="'Liberation Sans'" font-size="27.4" font-weight="normal" font-style="normal" fill="#000" stroke="#000" stroke-width="0.45" stroke-linejoin="round">0</text>
<text transform="translate(958.89,713.90) scale(1.0145,1)" font-family="'Liberation Sans'" font-size="27.4" font-weight="normal" font-style="normal" fill="#000" stroke="#000" stroke-width="0.45" stroke-linejoin="round">-5</text>
<text transform="translate(980.82,143.90) scale(0.9534,1)" font-family="'Liberation Sans'" font-size="27.4" font-weight="normal" font-style="normal" fill="#000" stroke="#000" stroke-width="0.45" stroke-linejoin="round">0</text>
<text transform="translate(1118.67,143.90) scale(0.9997,1)" font-family="'Liberation Sans'" font-size="27.4" font-weight="normal" font-style="normal" fill="#000" stroke="#000" stroke-width="0.45" stroke-linejoin="round">2</text>
<text transform="translate(1258.56,143.90) scale(0.9518,1)" font-family="'Liberation Sans'" font-size="27.4" font-weight="normal" font-style="normal" fill="#000" stroke="#000" stroke-width="0.45" stroke-linejoin="round">4</text>
<text transform="translate(1398.04,143.90) scale(1.0095,1)" font-family="'Liberation Sans'" font-size="27.4" font-weight="normal" font-style="normal" fill="#000" stroke="#000" stroke-width="0.45" stroke-linejoin="round">6</text>
<text transform="translate(980.82,290.90) scale(0.9534,1)" font-family="'Liberation Sans'" font-size="27.4" font-weight="normal" font-style="normal" fill="#000" stroke="#000" stroke-width="0.45" stroke-linejoin="round">0</text>
<text transform="translate(1118.67,290.90) scale(0.9997,1)" font-family="'Liberation Sans'" font-size="27.4" font-weight="normal" font-style="normal" fill="#000" stroke="#000" stroke-width="0.45" stroke-linejoin="round">2</text>
<text transform="translate(1258.56,290.90) scale(0.9518,1)" font-family="'Liberation Sans'" font-size="27.4" font-weight="normal" font-style="normal" fill="#000" stroke="#000" stroke-width="0.45" stroke-linejoin="round">4</text>
<text transform="translate(1398.04,290.90) scale(1.0095,1)" font-family="'Liberation Sans'" font-size="27.4" font-weight="normal" font-style="normal" fill="#000" stroke="#000" stroke-width="0.45" stroke-linejoin="round">6</text>
<text transform="translate(980.82,437.90) scale(0.9534,1)" font-family="'Liberation Sans'" font-size="27.4" font-weight="normal" font-style="normal" fill="#000" stroke="#000" stroke-width="0.45" stroke-linejoin="round">0</text>
<text transform="translate(1118.67,437.90) scale(0.9997,1)" font-family="'Liberation Sans'" font-size="27.4" font-weight="normal" font-style="normal" fill="#000" stroke="#000" stroke-width="0.45" stroke-linejoin="round">2</text>
<text transform="translate(1258.56,437.90) scale(0.9518,1)" font-family="'Liberation Sans'" font-size="27.4" font-weight="normal" font-style="normal" fill="#000" stroke="#000" stroke-width="0.45" stroke-linejoin="round">4</text>
<text transform="translate(1398.04,437.90) scale(1.0095,1)" font-family="'Liberation Sans'" font-size="27.4" font-weight="normal" font-style="normal" fill="#000" stroke="#000" stroke-width="0.45" stroke-linejoin="round">6</text>
<text transform="translate(980.82,584.90) scale(0.9534,1)" font-family="'Liberation Sans'" font-size="27.4" font-weight="normal" font-style="normal" fill="#000" stroke="#000" stroke-width="0.45" stroke-linejoin="round">0</text>
<text transform="translate(1118.67,584.90) scale(0.9997,1)" font-family="'Liberation Sans'" font-size="27.4" font-weight="normal" font-style="normal" fill="#000" stroke="#000" stroke-width="0.45" stroke-linejoin="round">2</text>
<text transform="translate(1258.56,584.90) scale(0.9518,1)" font-family="'Liberation Sans'" font-size="27.4" font-weight="normal" font-style="normal" fill="#000" stroke="#000" stroke-width="0.45" stroke-linejoin="round">4</text>
<text transform="translate(1398.04,584.90) scale(1.0095,1)" font-family="'Liberation Sans'" font-size="27.4" font-weight="normal" font-style="normal" fill="#000" stroke="#000" stroke-width="0.45" stroke-linejoin="round">6</text>
<text transform="translate(980.82,732.90) scale(0.9534,1)" font-family="'Liberation Sans'" font-size="27.4" font-weight="normal" font-style="normal" fill="#000" stroke="#000" stroke-width="0.45" stroke-linejoin="round">0</text>
<text transform="translate(1118.67,732.90) scale(0.9997,1)" font-family="'Liberation Sans'" font-size="27.4" font-weight="normal" font-style="normal" fill="#000" stroke="#000" stroke-width="0.45" stroke-linejoin="round">2</text>
<text transform="translate(1258.56,732.90) scale(0.9518,1)" font-family="'Liberation Sans'" font-size="27.4" font-weight="normal" font-style="normal" fill="#000" stroke="#000" stroke-width="0.45" stroke-linejoin="round">4</text>
<text transform="translate(1398.04,732.90) scale(1.0095,1)" font-family="'Liberation Sans'" font-size="27.4" font-weight="normal" font-style="normal" fill="#000" stroke="#000" stroke-width="0.45" stroke-linejoin="round">6</text></g>
</svg>
</body></html>
